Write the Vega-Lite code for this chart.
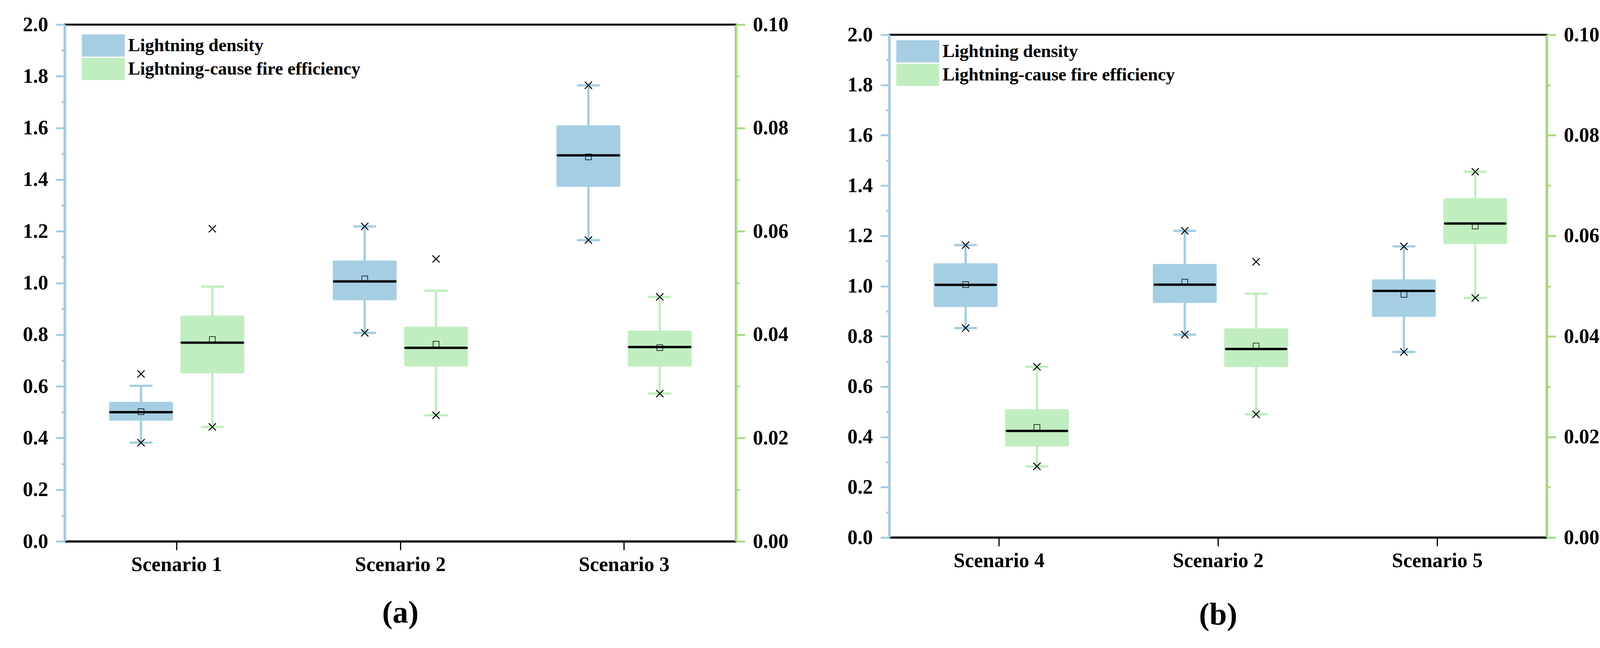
{
  "$schema": "https://vega.github.io/schema/vega-lite/v6.json",
  "background": "white",
  "padding": {"left": 55, "top": 34, "right": 10, "bottom": 10},
  "config": {
    "view": {"stroke": "black", "strokeWidth": 5},
    "font": "Liberation Serif",
    "legend": {"padding": 0}
  },
  "datasets": {
    "boxes": [
      {"panel": "a", "scenario": "Scenario 1", "series": "Lightning density", "lo": 0.382, "q1": 0.467, "med": 0.5, "q3": 0.54, "hi": 0.602, "mean": 0.502},
      {"panel": "a", "scenario": "Scenario 1", "series": "Lightning-cause fire efficiency", "lo": 0.02215, "q1": 0.0325, "med": 0.03845, "q3": 0.0437, "hi": 0.0493, "mean": 0.03905},
      {"panel": "a", "scenario": "Scenario 2", "series": "Lightning density", "lo": 0.807, "q1": 0.933, "med": 1.006, "q3": 1.087, "hi": 1.219, "mean": 1.016},
      {"panel": "a", "scenario": "Scenario 2", "series": "Lightning-cause fire efficiency", "lo": 0.0244, "q1": 0.03385, "med": 0.03745, "q3": 0.04155, "hi": 0.0485, "mean": 0.03815},
      {"panel": "a", "scenario": "Scenario 3", "series": "Lightning density", "lo": 1.166, "q1": 1.372, "med": 1.494, "q3": 1.61, "hi": 1.765, "mean": 1.488},
      {"panel": "a", "scenario": "Scenario 3", "series": "Lightning-cause fire efficiency", "lo": 0.0286, "q1": 0.03385, "med": 0.0376, "q3": 0.0408, "hi": 0.0473, "mean": 0.0375},
      {"panel": "b", "scenario": "Scenario 4", "series": "Lightning density", "lo": 0.833, "q1": 0.917, "med": 1.005, "q3": 1.091, "hi": 1.163, "mean": 1.006},
      {"panel": "b", "scenario": "Scenario 4", "series": "Lightning-cause fire efficiency", "lo": 0.01415, "q1": 0.0181, "med": 0.0212, "q3": 0.0255, "hi": 0.03395, "mean": 0.0219},
      {"panel": "b", "scenario": "Scenario 2", "series": "Lightning density", "lo": 0.807, "q1": 0.933, "med": 1.006, "q3": 1.088, "hi": 1.22, "mean": 1.016},
      {"panel": "b", "scenario": "Scenario 2", "series": "Lightning-cause fire efficiency", "lo": 0.0245, "q1": 0.0339, "med": 0.0375, "q3": 0.0416, "hi": 0.0485, "mean": 0.0381},
      {"panel": "b", "scenario": "Scenario 5", "series": "Lightning density", "lo": 0.738, "q1": 0.878, "med": 0.981, "q3": 1.027, "hi": 1.158, "mean": 0.967},
      {"panel": "b", "scenario": "Scenario 5", "series": "Lightning-cause fire efficiency", "lo": 0.04765, "q1": 0.05835, "med": 0.06245, "q3": 0.0675, "hi": 0.07275, "mean": 0.06195}
    ],
    "crosses": [
      {"panel": "a", "scenario": "Scenario 1", "series": "Lightning density", "value": 0.382},
      {"panel": "a", "scenario": "Scenario 1", "series": "Lightning density", "value": 0.648},
      {"panel": "a", "scenario": "Scenario 1", "series": "Lightning-cause fire efficiency", "value": 0.02215},
      {"panel": "a", "scenario": "Scenario 1", "series": "Lightning-cause fire efficiency", "value": 0.0605},
      {"panel": "a", "scenario": "Scenario 2", "series": "Lightning density", "value": 0.807},
      {"panel": "a", "scenario": "Scenario 2", "series": "Lightning density", "value": 1.219},
      {"panel": "a", "scenario": "Scenario 2", "series": "Lightning-cause fire efficiency", "value": 0.0244},
      {"panel": "a", "scenario": "Scenario 2", "series": "Lightning-cause fire efficiency", "value": 0.05465},
      {"panel": "a", "scenario": "Scenario 3", "series": "Lightning density", "value": 1.166},
      {"panel": "a", "scenario": "Scenario 3", "series": "Lightning density", "value": 1.765},
      {"panel": "a", "scenario": "Scenario 3", "series": "Lightning-cause fire efficiency", "value": 0.0286},
      {"panel": "a", "scenario": "Scenario 3", "series": "Lightning-cause fire efficiency", "value": 0.0473},
      {"panel": "b", "scenario": "Scenario 4", "series": "Lightning density", "value": 0.833},
      {"panel": "b", "scenario": "Scenario 4", "series": "Lightning density", "value": 1.163},
      {"panel": "b", "scenario": "Scenario 4", "series": "Lightning-cause fire efficiency", "value": 0.01415},
      {"panel": "b", "scenario": "Scenario 4", "series": "Lightning-cause fire efficiency", "value": 0.03395},
      {"panel": "b", "scenario": "Scenario 2", "series": "Lightning density", "value": 0.807},
      {"panel": "b", "scenario": "Scenario 2", "series": "Lightning density", "value": 1.22},
      {"panel": "b", "scenario": "Scenario 2", "series": "Lightning-cause fire efficiency", "value": 0.0245},
      {"panel": "b", "scenario": "Scenario 2", "series": "Lightning-cause fire efficiency", "value": 0.05485},
      {"panel": "b", "scenario": "Scenario 5", "series": "Lightning density", "value": 0.738},
      {"panel": "b", "scenario": "Scenario 5", "series": "Lightning density", "value": 1.158},
      {"panel": "b", "scenario": "Scenario 5", "series": "Lightning-cause fire efficiency", "value": 0.04765},
      {"panel": "b", "scenario": "Scenario 5", "series": "Lightning-cause fire efficiency", "value": 0.07275}
    ]
  },
  "spacing": 145,
  "resolve": {"scale": {"x": "independent", "y": "independent", "color": "independent"}, "legend": {"color": "independent"}},
  "hconcat": [
    {
      "width": 1718,
      "height": 1323,
      "title": {"text": "(a)", "orient": "bottom", "anchor": "middle", "fontSize": 80, "font": "Liberation Serif", "fontWeight": "bold", "color": "black", "offset": 60},
      "resolve": {"scale": {"y": "independent"}},
      "layer": [
        {
          "data": {"name": "boxes"},
          "transform": [{"filter": "datum.panel == 'a' && datum.series == 'Lightning density'"}],
          "encoding": {
            "x": {"field": "scenario", "type": "nominal", "scale": {"domain": ["Scenario 1", "Scenario 2", "Scenario 3"], "paddingInner": 0, "paddingOuter": 0},
              "axis": {"title": null, "labelAngle": 0, "labelLimit": 1000, "domainColor": "black", "domainWidth": 5, "tickColor": "black", "tickWidth": 3, "tickSize": 22, "labelFont": "Liberation Serif", "labelFontWeight": "bold", "labelFontSize": 52, "labelColor": "black", "labelPadding": 12}},
            "xOffset": {"field": "series", "type": "nominal", "scale": {"domain": ["Lightning density", "Lightning-cause fire efficiency"], "paddingInner": 0.104, "paddingOuter": 0.62}}
          },
          "layer": [
            {"mark": {"type": "rule", "color": "#a6cee3", "strokeWidth": 6},
              "encoding": {"y": {"field": "lo", "type": "quantitative", "scale": {"domain": [0, 2]},
                "axis": {"orient": "left", "title": null, "grid": false, "values": [0, 0.1, 0.2, 0.3, 0.4, 0.5, 0.6, 0.7, 0.8, 0.9, 1.0, 1.1, 1.2, 1.3, 1.4, 1.5, 1.6, 1.7, 1.8, 1.9, 2.0],
                  "labelExpr": "round(datum.value*10)%2 == 0 ? format(datum.value, '.1f') : ''",
                  "domainColor": "#a6cee3", "domainWidth": 6, "tickColor": "#a6cee3", "tickWidth": 5,
                  "tickSize": {"condition": {"test": "round(datum.value*10)%2 == 1", "value": 9}, "value": 23},
                  "labelFont": "Liberation Serif", "labelFontWeight": "bold", "labelFontSize": 52, "labelColor": "black", "labelPadding": 20, "labelOverlap": false, "labelBound": false}},
                "y2": {"field": "hi"}}},
            {"mark": {"type": "bar", "cornerRadius": 4},
              "encoding": {"y": {"field": "q1", "type": "quantitative"}, "y2": {"field": "q3"},
                "color": {"field": "series", "type": "nominal", "scale": {"domain": ["Lightning density", "Lightning-cause fire efficiency"], "range": ["#a6cee3", "#c1eec0"]},
                  "legend": {"title": null, "orient": "none", "legendX": 70, "legendY": 25, "direction": "vertical", "symbolType": "M-1.93,-1H1.93V1H-1.93Z", "symbolSize": 3249, "symbolStrokeWidth": 0, "symbolOpacity": 1, "labelFont": "Liberation Serif", "labelFontWeight": "bold", "labelFontSize": 46, "labelColor": "black", "labelOffset": 35, "rowPadding": 3, "labelLimit": 1000}}}},
            {"mark": {"type": "tick", "color": "#a6cee3", "size": 60, "thickness": 6, "cornerRadius": 3, "opacity": 1}, "encoding": {"y": {"field": "lo", "type": "quantitative"}}},
            {"mark": {"type": "tick", "color": "#a6cee3", "size": 60, "thickness": 6, "cornerRadius": 3, "opacity": 1}, "encoding": {"y": {"field": "hi", "type": "quantitative"}}},
            {"mark": {"type": "tick", "color": "black", "size": 163, "thickness": 6, "cornerRadius": 3, "opacity": 1}, "encoding": {"y": {"field": "med", "type": "quantitative"}}},
            {"mark": {"type": "point", "shape": "square", "size": 225, "filled": false, "color": "black", "strokeWidth": 1.5, "opacity": 1}, "encoding": {"y": {"field": "mean", "type": "quantitative"}}},
            {"data": {"name": "crosses"}, "transform": [{"filter": "datum.panel == 'a' && datum.series == 'Lightning density'"}],
              "mark": {"type": "point", "shape": "M-1,-1L1,1M-1,1L1,-1", "size": 340, "filled": false, "color": "black", "strokeWidth": 2.5, "opacity": 1}, "encoding": {"y": {"field": "value", "type": "quantitative"}}}
          ]
        },
        {
          "data": {"name": "boxes"},
          "transform": [{"filter": "datum.panel == 'a' && datum.series == 'Lightning-cause fire efficiency'"}],
          "encoding": {
            "x": {"field": "scenario", "type": "nominal", "scale": {"domain": ["Scenario 1", "Scenario 2", "Scenario 3"], "paddingInner": 0, "paddingOuter": 0}},
            "xOffset": {"field": "series", "type": "nominal", "scale": {"domain": ["Lightning density", "Lightning-cause fire efficiency"], "paddingInner": 0.104, "paddingOuter": 0.62}}
          },
          "layer": [
            {"mark": {"type": "rule", "color": "#c1eec0", "strokeWidth": 6},
              "encoding": {"y": {"field": "lo", "type": "quantitative", "scale": {"domain": [0, 0.1]},
                "axis": {"orient": "right", "title": null, "grid": false, "values": [0, 0.01, 0.02, 0.03, 0.04, 0.05, 0.06, 0.07, 0.08, 0.09, 0.1],
                  "labelExpr": "round(datum.value*100)%2 == 0 ? format(datum.value, '.2f') : ''",
                  "domainColor": "#a8dc82", "domainWidth": 6, "tickColor": "#a8dc82", "tickWidth": 5,
                  "tickSize": {"condition": {"test": "round(datum.value*100)%2 == 1", "value": 9}, "value": 23},
                  "labelFont": "Liberation Serif", "labelFontWeight": "bold", "labelFontSize": 52, "labelColor": "black", "labelPadding": 20, "labelOverlap": false, "labelBound": false}},
                "y2": {"field": "hi"}}},
            {"mark": {"type": "bar", "cornerRadius": 4},
              "encoding": {"y": {"field": "q1", "type": "quantitative"}, "y2": {"field": "q3"},
                "color": {"field": "series", "type": "nominal", "scale": {"domain": ["Lightning density", "Lightning-cause fire efficiency"], "range": ["#a6cee3", "#c1eec0"]}}}},
            {"mark": {"type": "tick", "color": "#c1eec0", "size": 60, "thickness": 6, "cornerRadius": 3, "opacity": 1}, "encoding": {"y": {"field": "lo", "type": "quantitative"}}},
            {"mark": {"type": "tick", "color": "#c1eec0", "size": 60, "thickness": 6, "cornerRadius": 3, "opacity": 1}, "encoding": {"y": {"field": "hi", "type": "quantitative"}}},
            {"mark": {"type": "tick", "color": "black", "size": 163, "thickness": 6, "cornerRadius": 3, "opacity": 1}, "encoding": {"y": {"field": "med", "type": "quantitative"}}},
            {"mark": {"type": "point", "shape": "square", "size": 225, "filled": false, "color": "black", "strokeWidth": 1.5, "opacity": 1}, "encoding": {"y": {"field": "mean", "type": "quantitative"}}},
            {"data": {"name": "crosses"}, "transform": [{"filter": "datum.panel == 'a' && datum.series == 'Lightning-cause fire efficiency'"}],
              "mark": {"type": "point", "shape": "M-1,-1L1,1M-1,1L1,-1", "size": 340, "filled": false, "color": "black", "strokeWidth": 2.5, "opacity": 1}, "encoding": {"y": {"field": "value", "type": "quantitative"}}}
          ]
        }
      ]
    },
    {
      "spacing": -4,
      "vconcat": [
        {"width": 10, "height": 1, "view": {"stroke": null, "fill": null}, "data": {"values": []}, "mark": {"type": "point", "opacity": 0}, "encoding": {}},
        {
          "width": 1683,
          "height": 1287,
          "title": {"text": "(b)", "orient": "bottom", "anchor": "middle", "fontSize": 80, "font": "Liberation Serif", "fontWeight": "bold", "color": "black", "offset": 75},
          "resolve": {"scale": {"y": "independent"}},
          "layer": [
            {
              "data": {"name": "boxes"},
              "transform": [{"filter": "datum.panel == 'b' && datum.series == 'Lightning density'"}],
              "encoding": {
                "x": {"field": "scenario", "type": "nominal", "scale": {"domain": ["Scenario 4", "Scenario 2", "Scenario 5"], "paddingInner": 0, "paddingOuter": 0},
                  "axis": {"title": null, "labelAngle": 0, "labelLimit": 1000, "domainColor": "black", "domainWidth": 5, "tickColor": "black", "tickWidth": 3, "tickSize": 22, "labelFont": "Liberation Serif", "labelFontWeight": "bold", "labelFontSize": 52, "labelColor": "black", "labelPadding": 12}},
                "xOffset": {"field": "series", "type": "nominal", "scale": {"domain": ["Lightning density", "Lightning-cause fire efficiency"], "paddingInner": 0.104, "paddingOuter": 0.62}}
              },
              "layer": [
                {"mark": {"type": "rule", "color": "#a6cee3", "strokeWidth": 6},
                  "encoding": {"y": {"field": "lo", "type": "quantitative", "scale": {"domain": [0, 2]},
                    "axis": {"orient": "left", "title": null, "grid": false, "values": [0, 0.1, 0.2, 0.3, 0.4, 0.5, 0.6, 0.7, 0.8, 0.9, 1.0, 1.1, 1.2, 1.3, 1.4, 1.5, 1.6, 1.7, 1.8, 1.9, 2.0],
                      "labelExpr": "round(datum.value*10)%2 == 0 ? format(datum.value, '.1f') : ''",
                      "domainColor": "#a6cee3", "domainWidth": 6, "tickColor": "#a6cee3", "tickWidth": 5,
                      "tickSize": {"condition": {"test": "round(datum.value*10)%2 == 1", "value": 9}, "value": 23},
                      "labelFont": "Liberation Serif", "labelFontWeight": "bold", "labelFontSize": 52, "labelColor": "black", "labelPadding": 20, "labelOverlap": false, "labelBound": false}},
                    "y2": {"field": "hi"}}},
                {"mark": {"type": "bar", "cornerRadius": 4},
                  "encoding": {"y": {"field": "q1", "type": "quantitative"}, "y2": {"field": "q3"},
                    "color": {"field": "series", "type": "nominal", "scale": {"domain": ["Lightning density", "Lightning-cause fire efficiency"], "range": ["#a6cee3", "#c1eec0"]},
                      "legend": {"title": null, "orient": "none", "legendX": 44, "legendY": 40, "direction": "vertical", "symbolType": "M-1.93,-1H1.93V1H-1.93Z", "symbolSize": 3249, "symbolStrokeWidth": 0, "symbolOpacity": 1, "labelFont": "Liberation Serif", "labelFontWeight": "bold", "labelFontSize": 46, "labelColor": "black", "labelOffset": 35, "rowPadding": 3, "labelLimit": 1000}}}},
                {"mark": {"type": "tick", "color": "#a6cee3", "size": 60, "thickness": 6, "cornerRadius": 3, "opacity": 1}, "encoding": {"y": {"field": "lo", "type": "quantitative"}}},
                {"mark": {"type": "tick", "color": "#a6cee3", "size": 60, "thickness": 6, "cornerRadius": 3, "opacity": 1}, "encoding": {"y": {"field": "hi", "type": "quantitative"}}},
                {"mark": {"type": "tick", "color": "black", "size": 160, "thickness": 6, "cornerRadius": 3, "opacity": 1}, "encoding": {"y": {"field": "med", "type": "quantitative"}}},
                {"mark": {"type": "point", "shape": "square", "size": 225, "filled": false, "color": "black", "strokeWidth": 1.5, "opacity": 1}, "encoding": {"y": {"field": "mean", "type": "quantitative"}}},
                {"data": {"name": "crosses"}, "transform": [{"filter": "datum.panel == 'b' && datum.series == 'Lightning density'"}],
                  "mark": {"type": "point", "shape": "M-1,-1L1,1M-1,1L1,-1", "size": 340, "filled": false, "color": "black", "strokeWidth": 2.5, "opacity": 1}, "encoding": {"y": {"field": "value", "type": "quantitative"}}}
              ]
            },
            {
              "data": {"name": "boxes"},
              "transform": [{"filter": "datum.panel == 'b' && datum.series == 'Lightning-cause fire efficiency'"}],
              "encoding": {
                "x": {"field": "scenario", "type": "nominal", "scale": {"domain": ["Scenario 4", "Scenario 2", "Scenario 5"], "paddingInner": 0, "paddingOuter": 0}},
                "xOffset": {"field": "series", "type": "nominal", "scale": {"domain": ["Lightning density", "Lightning-cause fire efficiency"], "paddingInner": 0.104, "paddingOuter": 0.62}}
              },
              "layer": [
                {"mark": {"type": "rule", "color": "#c1eec0", "strokeWidth": 6},
                  "encoding": {"y": {"field": "lo", "type": "quantitative", "scale": {"domain": [0, 0.1]},
                    "axis": {"orient": "right", "title": null, "grid": false, "values": [0, 0.01, 0.02, 0.03, 0.04, 0.05, 0.06, 0.07, 0.08, 0.09, 0.1],
                      "labelExpr": "round(datum.value*100)%2 == 0 ? format(datum.value, '.2f') : ''",
                      "domainColor": "#a8dc82", "domainWidth": 6, "tickColor": "#a8dc82", "tickWidth": 5,
                      "tickSize": {"condition": {"test": "round(datum.value*100)%2 == 1", "value": 9}, "value": 23},
                      "labelFont": "Liberation Serif", "labelFontWeight": "bold", "labelFontSize": 52, "labelColor": "black", "labelPadding": 20, "labelOverlap": false, "labelBound": false}},
                    "y2": {"field": "hi"}}},
                {"mark": {"type": "bar", "cornerRadius": 4},
                  "encoding": {"y": {"field": "q1", "type": "quantitative"}, "y2": {"field": "q3"},
                    "color": {"field": "series", "type": "nominal", "scale": {"domain": ["Lightning density", "Lightning-cause fire efficiency"], "range": ["#a6cee3", "#c1eec0"]}}}},
                {"mark": {"type": "tick", "color": "#c1eec0", "size": 60, "thickness": 6, "cornerRadius": 3, "opacity": 1}, "encoding": {"y": {"field": "lo", "type": "quantitative"}}},
                {"mark": {"type": "tick", "color": "#c1eec0", "size": 60, "thickness": 6, "cornerRadius": 3, "opacity": 1}, "encoding": {"y": {"field": "hi", "type": "quantitative"}}},
                {"mark": {"type": "tick", "color": "black", "size": 160, "thickness": 6, "cornerRadius": 3, "opacity": 1}, "encoding": {"y": {"field": "med", "type": "quantitative"}}},
                {"mark": {"type": "point", "shape": "square", "size": 225, "filled": false, "color": "black", "strokeWidth": 1.5, "opacity": 1}, "encoding": {"y": {"field": "mean", "type": "quantitative"}}},
                {"data": {"name": "crosses"}, "transform": [{"filter": "datum.panel == 'b' && datum.series == 'Lightning-cause fire efficiency'"}],
                  "mark": {"type": "point", "shape": "M-1,-1L1,1M-1,1L1,-1", "size": 340, "filled": false, "color": "black", "strokeWidth": 2.5, "opacity": 1}, "encoding": {"y": {"field": "value", "type": "quantitative"}}}
              ]
            }
          ]
        }
      ]
    }
  ]
}
